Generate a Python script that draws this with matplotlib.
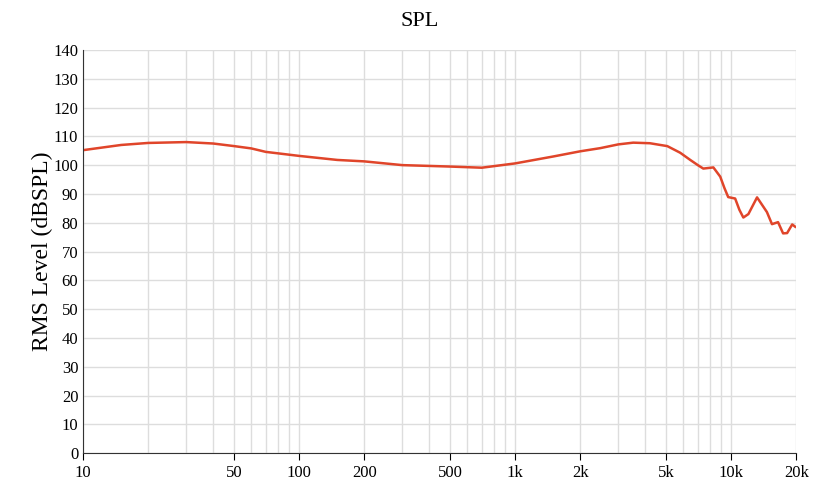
import matplotlib
matplotlib.use("Agg")
import matplotlib.pyplot as plt
import numpy as np
from matplotlib.ticker import FixedLocator, NullFormatter

freq = [10, 15, 20, 30, 40, 50, 60, 70, 100, 150, 200, 300, 500, 700, 1000, 1500, 2000, 2477, 3000, 3516, 4200, 5056, 5800, 6457, 7000, 7420, 8261, 8888, 9300, 9677, 10420, 10900, 11370, 12000, 13160, 14620, 15430, 16460, 17370, 18130, 19140, 19770]
spl = [105.2, 107.0, 107.7, 108.0, 107.5, 106.6, 105.8, 104.6, 103.2, 101.8, 101.3, 100.0, 99.5, 99.1, 100.6, 103.0, 104.8, 105.9, 107.2, 107.8, 107.6, 106.6, 104.3, 101.8, 100.0, 98.8, 99.2, 96.0, 92.0, 88.9, 88.4, 84.5, 81.8, 83.0, 88.8, 83.7, 79.5, 80.2, 76.3, 76.4, 79.4, 78.6]

xticks = [10, 50, 100, 200, 500, 1000, 2000, 5000, 10000, 20000]
xlabels = ["10", "50", "100", "200", "500", "1k", "2k", "5k", "10k", "20k"]
yticks = list(range(0, 141, 10))

plt.rcParams['font.family'] = ['Liberation Serif', 'DejaVu Serif']
fig = plt.figure(figsize=(8.4, 4.8), dpi=100)
ax = fig.add_axes([0.099, 0.056, 0.849, 0.84])
x = np.array(freq, float)
ax.plot(x, spl, color="#e0452a", lw=1.8, solid_joinstyle="round")
ax.set_xscale("log")
ax.set_xlim(10, 20000)
ax.set_ylim(0, 140)
minor = [m * d for d in [10, 100, 1000, 10000] for m in range(1, 10) if 10 <= m * d <= 20000]
ax.xaxis.set_major_locator(FixedLocator(xticks))
ax.xaxis.set_minor_locator(FixedLocator(minor))
ax.xaxis.set_minor_formatter(NullFormatter())
ax.set_xticklabels(xlabels)
ax.set_yticks(yticks)
ax.grid(True, which="both", color="#dddddd", lw=1)
ax.set_axisbelow(True)
for s in ["top", "right"]:
    ax.spines[s].set_visible(False)
ax.spines["left"].set_color("#333333")
ax.spines["bottom"].set_color("#333333")
ax.tick_params(which="both", length=0, labelsize=12)
ax.tick_params(axis="x", which="major", length=5)
ax.set_ylabel("RMS Level (dBSPL)", fontsize=17, labelpad=0)
fig.suptitle("SPL", fontsize=16, y=0.975)
fig.savefig("out.png", dpi=100)
